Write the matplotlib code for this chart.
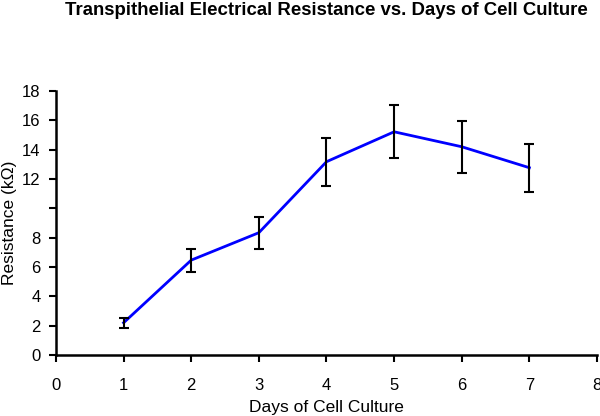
import matplotlib
matplotlib.use("Agg")
import matplotlib.pyplot as plt

days = [1, 2, 3, 4, 5, 6, 7]
resistance = [2.2, 6.47, 8.34, 13.18, 15.22, 14.2, 12.77]
errors = [0.35, 0.79, 1.1, 1.65, 1.82, 1.76, 1.63]
x_ticks = [0, 1, 2, 3, 4, 5, 6, 7, 8]
y_ticks = [0, 2, 4, 6, 8, 10, 12, 14, 16, 18]
y_tick_labels = ["0", "2", "4", "6", "8", "", "12", "14", "16", "18"]

plt.rcParams['font.family'] = ['Liberation Sans', 'DejaVu Sans']

fig = plt.figure(figsize=(6, 4.16), dpi=100)
ax = fig.add_axes([0.0933, 0.1466, 0.9017, 0.6346])

ax.plot(days, resistance, color='#0000FF', lw=2, zorder=2)
ax.errorbar(days, resistance, yerr=errors, fmt='none', ecolor='black',
            elinewidth=1.5, capsize=3.5, capthick=1.5, zorder=3)

ax.set_xlim(0, 8)
ax.set_ylim(0, 18)
ax.set_xticks(x_ticks)
ax.set_yticks(y_ticks)
ax.set_yticklabels(y_tick_labels)
ax.tick_params(direction='out', length=5, width=1.5, labelsize=12, pad=6, colors='black')
ax.tick_params(axis='x', pad=11.5)

for s in ['top', 'right']:
    ax.spines[s].set_visible(False)
for s in ['left', 'bottom']:
    ax.spines[s].set_linewidth(1.8)

ax.set_xlabel("Days of Cell Culture", fontsize=12.5, labelpad=5)
ax.set_ylabel("Resistance (kΩ)", fontsize=12.5, labelpad=4)
fig.text(0.5442, 0.964, "Transpithelial Electrical Resistance vs. Days of Cell Culture",
         ha='center', va='baseline', fontsize=13.4, fontweight='bold')

fig.savefig("out.png", dpi=100)
